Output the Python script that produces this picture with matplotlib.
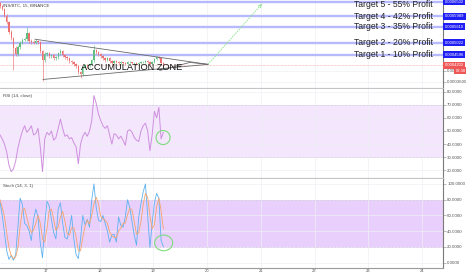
import numpy as np
import matplotlib
matplotlib.use("Agg")
import matplotlib.pyplot as plt
from matplotlib.patches import Ellipse

plt.rcParams['font.family'] = ['Liberation Sans', 'DejaVu Sans']

# ---------------- data ----------------
start_day = 16.143          # first 1h bar (day of month)
day_ticks = [17, 18, 19, 20, 21, 22, 23, 24]

# prices in satoshi (1e-8 BTC)
opens = [64500, 63730, 62630, 60050, 57840, 54160, 51960, 48280, 46070, 48640,
         50120, 51220, 51590, 53800, 50850, 50480, 50120, 50850, 50480, 47170,
         43860, 46070, 46440, 45330, 45700, 44600, 44960, 46440, 47170, 45700,
         44960, 44600, 43490, 43120, 42390, 41650, 39440, 38710, 41280, 42020,
         41650, 42390, 43860, 47540, 46800, 46070, 45330, 44600, 43860, 44600,
         43490, 42760, 43490, 43120, 42760, 43120, 42760, 42390, 43120, 43120,
         42760, 42760, 42390, 42760, 43120, 43120, 43490, 43120, 42390, 43120,
         44230, 44960, 44600, 42760]
closes = [63730, 62630, 60050, 57840, 54160, 51960, 48280, 46070, 48640, 50120,
          51220, 51590, 53800, 50850, 50480, 50120, 50850, 50480, 47170, 43860,
          46070, 46440, 45330, 45700, 44600, 44960, 46440, 47170, 45700, 44960,
          44600, 43490, 43120, 42390, 41650, 39440, 38710, 41280, 42020, 41650,
          42390, 43860, 47540, 46800, 46070, 45330, 44600, 43860, 44600, 43490,
          42760, 43490, 43120, 42760, 43120, 42760, 42390, 43120, 43120, 42760,
          42760, 42390, 42760, 43120, 43120, 43490, 43120, 42390, 43120, 44230,
          44960, 44600, 42760, 42020]
highs = [65200, 64100, 63000, 60800, 58300, 55000, 52400, 49000, 49500, 50900,
         51800, 52300, 56000, 54200, 51500, 51200, 51600, 51300, 50900, 47500,
         46700, 47000, 46800, 46300, 46100, 45600, 47000, 48000, 47500, 46100,
         45300, 45000, 44000, 43600, 42800, 42100, 40000, 41800, 42600, 42400,
         42900, 44400, 49400, 48100, 47200, 46500, 45800, 45000, 45100, 45000,
         43900, 44000, 43800, 43500, 43600, 43400, 43200, 43600, 43500, 43400,
         43200, 43100, 43200, 43600, 43500, 43900, 43800, 43500, 43600, 44800,
         45600, 45300, 45000, 43100]
lows = [63000, 62000, 59400, 57200, 53500, 51200, 40200, 45300, 45600, 48000,
        49600, 50800, 51000, 50200, 49800, 49600, 49700, 49900, 46500, 36500,
        43300, 45500, 44800, 44700, 44000, 44100, 44400, 45900, 45200, 44400,
        44000, 43000, 42600, 41900, 41100, 38900, 37600, 38200, 40800, 41200,
        41300, 42000, 43400, 46300, 45500, 44800, 44100, 43400, 43500, 43000,
        42300, 42400, 42700, 42300, 42400, 42400, 42000, 42000, 42700, 42400,
        42400, 42000, 42000, 42400, 42700, 42700, 42700, 42000, 42000, 42700,
        43800, 44200, 42300, 41600]

rsi = [47, 44, 40, 34, 24, 19, 21, 27, 37, 44, 50, 54, 49, 51, 54, 47, 48, 52, 38, 19,
       44, 49, 47, 50, 43, 45, 52, 59, 52, 46, 47, 44, 45, 41, 38, 25, 40, 46, 49, 46,
       50, 58, 77, 71, 63, 58, 54, 52, 54, 47, 40, 48, 47, 44, 46, 43, 39, 50, 51, 49,
       45, 43, 42, 50, 54, 56, 50, 35, 47, 65, 60, 68, 44, 49]
stoch_k = [77, 60, 38, 15, 4, 9, 3, 10, 45, 82, 74, 50, 47, 40, 28, 55, 68, 58, 25, 6,
           48, 78, 72, 55, 38, 30, 68, 76, 50, 32, 30, 42, 60, 30, 10, 5, 30, 60, 48, 55,
           45, 80, 100, 70, 54, 52, 60, 50, 40, 26, 35, 36, 26, 58, 47, 45, 58, 80, 70, 52,
           35, 22, 58, 75, 90, 100, 60, 19, 50, 76, 88, 82, 28, 20]
stoch_d = [80, 70, 58, 38, 19, 9, 5, 7, 19, 46, 67, 69, 57, 46, 38, 41, 50, 60, 50, 30,
           26, 44, 66, 68, 55, 41, 45, 58, 65, 53, 37, 35, 44, 44, 33, 15, 15, 32, 46, 54,
           49, 60, 75, 83, 75, 59, 55, 54, 50, 39, 34, 32, 32, 40, 44, 50, 50, 61, 69, 67,
           52, 36, 38, 52, 74, 88, 83, 60, 43, 48, 71, 82, 66, 43]

target_labels = ["Target 1 - 10% Profit", "Target 2 - 20% Profit", "Target 3 - 35% Profit",
                 "Target 4 - 42% Profit", "Target 5 - 55% Profit"]
target_levels = [45960, 50220, 56100, 59890, 65020]
current_price = 42020
price_ticks = [36000, 40000]
price_tick_labels = ["0.0003600", "0.00"]
countdown = "02:38"

# drawings (day, price)
tri_upper = ([16.795, 20.016], [51510, 42385])
tri_lower = ([16.944, 20.016], [36910, 42385])
tri_inner = ([19.12, 19.68, 20.016], [40200, 43100, 42385])
arrow_from = (20.016, 42385)
arrow_to = (21.02, 64300)
zone_text = (18.6, 41290)
rsi_circle = (19.18, 45)
stoch_circle = (19.19, 25)

# ---------------- figure ----------------
W, H = 466, 275
fig = plt.figure(figsize=(W / 100, H / 100), dpi=100)
fig.patch.set_facecolor('white')


def rect(top, bottom):
    return [0, 1 - bottom / H, 443 / W, (bottom - top) / H]


axp = fig.add_axes(rect(0, 88.5))
axr = fig.add_axes(rect(88.5, 179))
axs = fig.add_axes(rect(179, 267.5))

t = start_day + np.arange(len(closes)) / 24.0
xmax = start_day + 443 / 53.7

for ax in (axp, axr, axs):
    ax.set_xlim(start_day, xmax)
    ax.set_xticks(day_ticks)
    ax.grid(True, color='#eef0f4', lw=0.5)
    ax.set_axisbelow(True)
    ax.yaxis.tick_right()
    ax.spines['left'].set_visible(False)
    ax.spines['top'].set_visible(False)
    ax.spines['right'].set_color('#7a7a7a')
    ax.spines['right'].set_linewidth(0.8)
    ax.spines['bottom'].set_color('#c4c4c4')
    ax.spines['bottom'].set_linewidth(1.6)
    ax.tick_params(axis='y', labelsize=3.2, length=2, width=0.4, color='#888',
                   labelcolor='#555', pad=1)
    ax.tick_params(axis='x', length=0, labelbottom=False)

axs.spines['bottom'].set_color('#9a9a9a')
axs.spines['bottom'].set_linewidth(0.8)
axs.tick_params(axis='x', labelbottom=True, labelsize=3.0, length=1, width=0.4,
                color='#888', labelcolor='#555', pad=0.3)
axs.set_xticklabels([str(d) for d in day_ticks])

# ---- price panel ----
axp.set_ylim(33625, 65745)
o = np.array(opens); c = np.array(closes)
up = c >= o
cols = np.where(up, '#5fbf7f', '#ec7070')
axp.vlines(t, lows, highs, colors=cols, lw=0.45, zorder=3)
axp.bar(t, np.maximum(np.abs(c - o), 60), bottom=np.minimum(o, c), width=0.6 / 24,
        color=cols, lw=0, zorder=3)

for lvl in target_levels:
    axp.axhline(lvl, color='#b6b9fb', lw=1.7, zorder=2)
axp.axhline(current_price, color='#f3a3a3', lw=0.5, ls=(0, (1, 1)), zorder=2)

axp.set_yticks(price_ticks)
axp.set_yticklabels(price_tick_labels)

text_x = start_day + 433 / 53.7
text_dy = [0, 0, 0, 0, -2.2]   # pixel nudge (top label kept inside the chart)
for lbl, lvl, dy in zip(target_labels, target_levels, text_dy):
    axp.annotate(lbl, (text_x, lvl), xytext=(0, dy * 0.72), textcoords='offset points',
                 ha='right', va='center', fontsize=6.2, color='#222', zorder=5)
    axp.text(1.004, lvl, f"{lvl * 1e-8:.7f}", transform=axp.get_yaxis_transform(),
             fontsize=3.0, color='white', va='center', ha='left', clip_on=False,
             bbox=dict(boxstyle='square,pad=0.35', fc='#1f1ff5', ec='none'), zorder=6)
axp.text(1.004, current_price, f"{current_price * 1e-8:.7f}",
         transform=axp.get_yaxis_transform(), fontsize=3.0, color='white',
         va='center', ha='left', clip_on=False,
         bbox=dict(boxstyle='square,pad=0.35', fc='#ef5757', ec='none'), zorder=6)
axp.text(1.028, price_ticks[1], countdown, transform=axp.get_yaxis_transform(),
         fontsize=3.0, color='white', va='center', ha='left', clip_on=False,
         bbox=dict(boxstyle='square,pad=0.35', fc='#ef5757', ec='none'), zorder=6)

axp.plot(*tri_upper, color='#6a6a6a', lw=0.6, zorder=4)
axp.plot(*tri_lower, color='#6a6a6a', lw=0.6, zorder=4)
axp.plot(*tri_inner, color='#6a6a6a', lw=0.6, zorder=4)
axp.plot([arrow_from[0], arrow_to[0]], [arrow_from[1], arrow_to[1]],
         color='#93e393', lw=0.7, ls=(0, (1.5, 1)), zorder=4)
axp.annotate('', xy=arrow_to, xytext=(arrow_to[0] - 0.05, arrow_to[1] - 1100),
             arrowprops=dict(arrowstyle='->', color='#93e393', lw=0.7,
                             mutation_scale=5), zorder=4)
axp.text(*zone_text, "ACCUMULATION ZONE", ha='center', va='center', fontsize=6.7,
         color='#111', zorder=5)
axp.text(3 / 443, 1 - 6 / 88.5, "INS/BTC, 15, BINANCE", transform=axp.transAxes,
         fontsize=3.2, color='#444', va='center', ha='left')

# ---- RSI panel ----
axr.set_ylim(13.4, 82.4)
axr.axhspan(30, 70, color='#f3e6fd', zorder=0.3, lw=0)
for v in (30, 70):
    axr.axhline(v, color='#cbb9da', lw=0.5, ls=(0, (1, 1)))
axr.plot(t, rsi, color='#cf8fdf', lw=0.7, zorder=3)
axr.set_yticks([20, 30, 40, 50, 60, 70, 80])
axr.set_yticklabels([f"{v:.4f}" for v in [20, 30, 40, 50, 60, 70, 80]])
axr.add_patch(Ellipse(rsi_circle, width=14 / 53.7, height=14 / 1.31, fill=False,
                      ec='#7edc7e', lw=0.8, zorder=4))
axr.text(3 / 443, 1 - 7 / 90.5, "RSI (14, close)", transform=axr.transAxes,
         fontsize=3.2, color='#444', va='center', ha='left')

# ---- Stoch panel ----
axs.set_ylim(-6.3, 106.3)
axs.axhspan(20, 80, color='#e9cffb', zorder=0.3, lw=0)
for v in (20, 80):
    axs.axhline(v, color='#c9b0de', lw=0.5, ls=(0, (1, 1)))
axs.plot(t, stoch_k, color='#5db2f0', lw=0.6, zorder=3)
axs.plot(t, stoch_d, color='#f5a36a', lw=0.6, zorder=3)
axs.set_yticks([0, 20, 40, 60, 80, 100])
axs.set_yticklabels([f"{v:.4f}" for v in [0, 20, 40, 60, 80, 100]])
axs.add_patch(Ellipse(stoch_circle, width=18 / 53.7, height=16 / 0.8, fill=False,
                      ec='#7edc7e', lw=0.8, zorder=4))
axs.text(3 / 443, 1 - 7 / 88.5, "Stoch (14, 3, 1)", transform=axs.transAxes,
         fontsize=3.2, color='#444', va='center', ha='left')

fig.savefig("out.png", dpi=100)
